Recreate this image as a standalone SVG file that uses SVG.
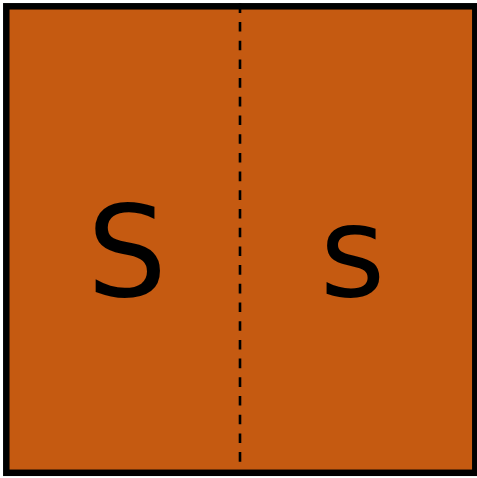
<svg xmlns="http://www.w3.org/2000/svg" width="477" height="478" viewBox="0 0 477 478">
<style>
.box{fill:#C55A11;stroke:#000000;stroke-width:6.5}
.div{stroke:#000000;stroke-width:2.6;stroke-dasharray:9.6 9.1;fill:none}
.lbl{font-family:"DejaVu Sans",sans-serif;font-size:126px;fill:#000000;text-anchor:middle}
</style>
<rect x="0" y="0" width="477" height="478" fill="#ffffff"/>
<g id="square">
<rect class="box" x="6.3" y="6.3" width="469" height="466.5"/>
</g>
<g id="connectors">
<line class="div" x1="240" y1="3.3" x2="240" y2="474"/>
</g>
<g id="allele-S">
<text class="lbl" x="127" y="296">S</text>
</g>
<g id="allele-s">
<text class="lbl" x="352.5" y="296">s</text>
</g>
</svg>
